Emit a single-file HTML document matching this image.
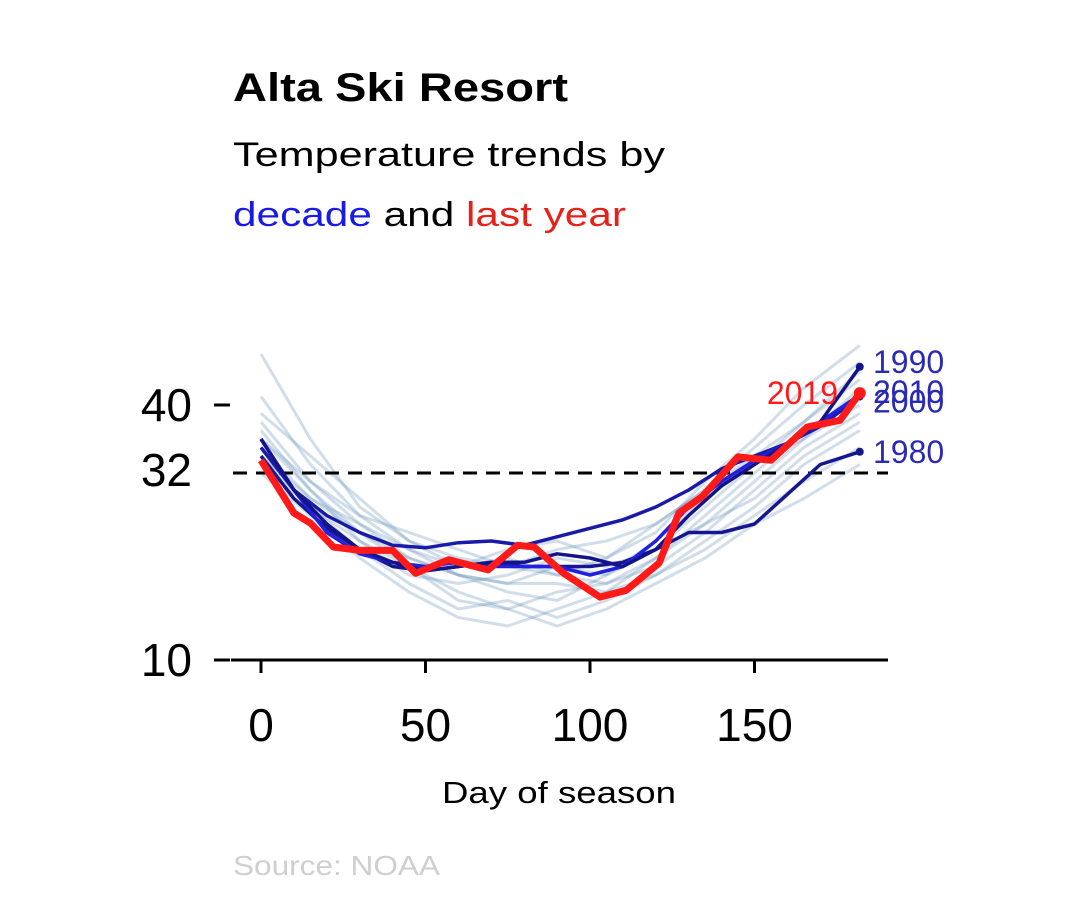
<!DOCTYPE html>
<html><head><meta charset="utf-8"><style>
html,body{margin:0;padding:0;background:#fff;}
svg{display:block;font-family:"Liberation Sans",sans-serif;}
</style></head><body>
<svg id="chart" width="1066" height="911" viewBox="0 0 1066 911">
<text x="233" y="101" font-size="40" font-weight="bold" fill="#000" textLength="335" lengthAdjust="spacingAndGlyphs">Alta Ski Resort</text>
<text x="233" y="166" font-size="34" fill="#000" textLength="432" lengthAdjust="spacingAndGlyphs">Temperature trends by</text>
<text x="233" y="226" font-size="34" textLength="393" lengthAdjust="spacingAndGlyphs"><tspan fill="#1a1ae6">decade</tspan><tspan fill="#000"> and </tspan><tspan fill="#e8201a">last year</tspan></text>
<g id="plot"></g>
<text x="442" y="803" font-size="31" fill="#000" textLength="234" lengthAdjust="spacingAndGlyphs">Day of season</text>
<text x="233" y="875" font-size="28" fill="#cfcfcf" textLength="207" lengthAdjust="spacingAndGlyphs">Source: NOAA</text>
</svg>
<script>
const xTicks=[0,50,100,150];
const yTicks=[10,32,40];
const faintDays=[0,15,30,45,60,75,90,105,120,135,150,165,182];
const faint1=[38,31,26,22,20,19,21,20,23,28,33,38,44];
const faint2=[41,33,27,23,21,22,20,19,22,27,32,37,41];
const faint3=[36,30,25,21,17,16,18,19,21,25,30,35,39];
const faint4=[34,28,23,19,16,17,15,17,20,24,28,33,37];
const faint5=[39,34,29,24,22,21,23,24,26,30,35,40,45];
const faint6=[32,27,22,18,15,14,16,18,22,26,31,36,40];
const faint7=[35,29,26,23,20,18,17,20,24,29,33,36,42];
const faint8=[37,30,24,20,19,20,22,21,23,26,29,34,38];
const faint9=[46,36,28,24,21,23,24,22,25,31,36,42,47];
const faint10=[33,28,24,21,18,16,14,16,19,22,26,29,33];
const faint11=[36,31,27,25,23,21,20,22,26,30,34,38,43];
const faint12=[34,29,25,22,20,19,19,18,20,23,27,31,35];
const faintSeries=[faint1,faint2,faint3,faint4,faint5,faint6,faint7,faint8,faint9,faint10,faint11,faint12];
const decDays=[0,10,20,30,40,50,60,70,80,90,100,110,120,130,140,150,160,170,182];
const dec1980=[34,29,25.5,23,21,20.5,21,21.5,21,21,21,21.5,23,25,25,26,29.5,33,34.5];
const dec1990=[36,30,26,23,21.5,20.5,21,21.5,21.5,22.5,22,21,23,27,30.5,33,35.5,38,44.5];
const dec2000=[35,30,27,25,23.5,23.2,23.8,24,23.5,24.5,25.5,26.5,28,30,32.5,34,35.5,37.5,41];
const dec2010=[36,30,25,22.5,21.5,21,21.5,21,21,21,20,21,24,28,31,33.5,35.5,38,41.2];
const redDays=[0,5,10,15,22,30,40,47,57,69,78,83,92,103,111,121,127,134,145,155,166,176,182];
const red2019=[33.5,30.4,27.3,26.1,23.3,22.9,22.9,20.2,21.8,20.6,23.5,23.3,20.2,17.4,18.2,21.4,27.3,29.2,33.9,33.5,37.4,38.2,41.4];
const x=d=>261+d*3.29;
const y=t=>660-(t-10)*8.5;
const NS='http://www.w3.org/2000/svg';
const plot=document.getElementById('plot');
function mk(tag,attrs){const e=document.createElementNS(NS,tag);for(const k in attrs)e.setAttribute(k,attrs[k]);plot.appendChild(e);return e;}
function pts(days,vals){return days.map((d,i)=>x(d).toFixed(1)+','+y(vals[i]).toFixed(1)).join(' ');}
faintSeries.forEach((s,i)=>{
  const p=mk('polyline',{points:pts(faintDays,s),fill:'none',stroke:'#5a88b5','stroke-width':3,'stroke-opacity':0.28,'stroke-linejoin':'round'});
  
  
});
const dash=mk('line',{x1:233,x2:888,y1:y(32),y2:y(32),stroke:'#000','stroke-width':3,'stroke-dasharray':'14,9'});


const decs=[[dec1980,'#16168f','1980'],[dec2000,'#1a1aa8','2000'],[dec2010,'#2020e0','2010'],[dec1990,'#14148a','1990']];
decs.forEach(([s,c,n])=>{
  const p=mk('polyline',{points:pts(decDays,s),fill:'none',stroke:c,'stroke-width':3.5,'stroke-linejoin':'round'});
  
  
  const d=mk('circle',{cx:x(decDays[decDays.length-1]),cy:y(s[s.length-1]),r:4,fill:c});
  
  
});
const rl=mk('polyline',{points:pts(redDays,red2019),fill:'none',stroke:'#ff1a1a','stroke-width':7,'stroke-linejoin':'round'});


const rd=mk('circle',{cx:x(182),cy:y(red2019[red2019.length-1]),r:6,fill:'#ff1a1a'});


const labs=[['1990',dec1990,-5],['2010',dec2010,-3],['2000',dec2000,5],['1980',dec1980,0]];
labs.forEach(([n,s,off])=>{
  const t=mk('text',{x:873,y:y(s[s.length-1])+off+11,'font-size':32,fill:'#2a2ab5'});
  t.textContent=n;
  
  
});
const rt=mk('text',{x:838,y:y(red2019[red2019.length-1])+11,'font-size':32,fill:'#ff1a1a','text-anchor':'end'});
rt.textContent='2019';


const ax=mk('line',{x1:231,x2:888,y1:660,y2:660,stroke:'#000','stroke-width':3});


xTicks.forEach(v=>{
  const tk=mk('line',{x1:x(v),x2:x(v),y1:660,y2:673,stroke:'#000','stroke-width':3});
  
  
  const t=mk('text',{x:x(v),y:741,'font-size':46,'text-anchor':'middle',fill:'#000'});
  t.textContent=v;
  
  
});
yTicks.forEach(v=>{
  const yy=v===32?470:(v===40?405:660);
  if(v!==32){
    const tk=mk('line',{x1:214,x2:230,y1:yy,y2:yy,stroke:'#000','stroke-width':3});
    
    
  }
  const t=mk('text',{x:192,y:yy+16,'font-size':46,'text-anchor':'end',fill:'#000'});
  t.textContent=v;
  
  
});
</script>
</body></html>
